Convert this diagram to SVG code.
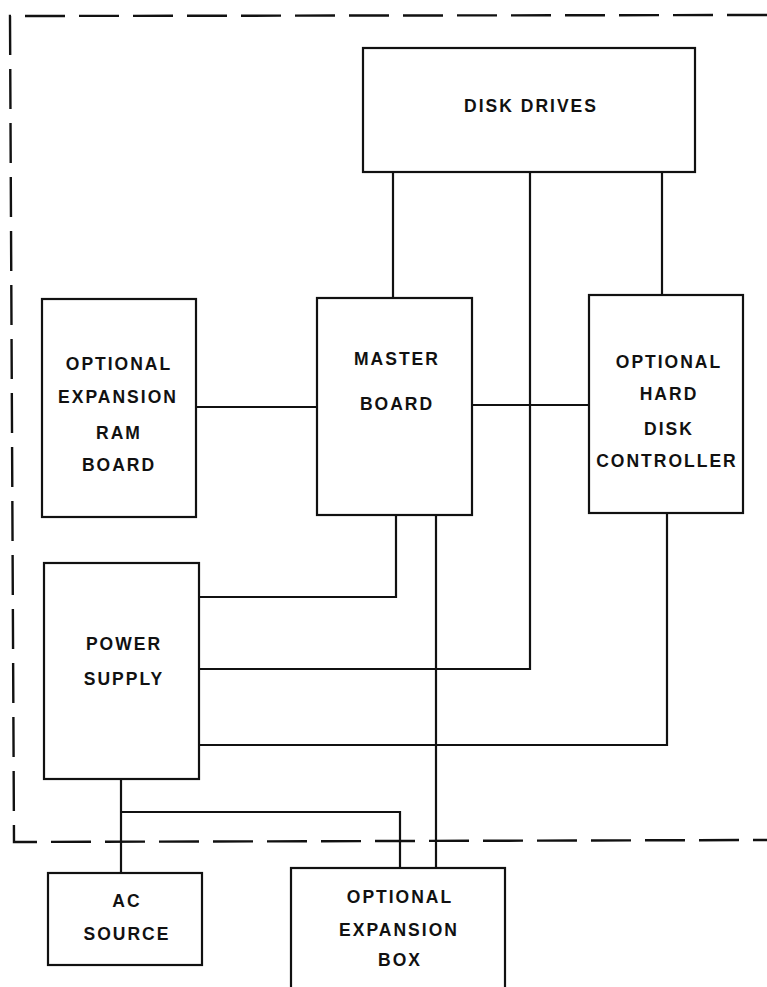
<svg xmlns="http://www.w3.org/2000/svg" width="767" height="987" viewBox="0 0 767 987">
<style>
.box{fill:#fff;stroke:#111;stroke-width:2.2}
.ln{fill:none;stroke:#111;stroke-width:2.2}
.dash{fill:none;stroke:#111;stroke-width:2.4;stroke-dasharray:40 14}
text{font-family:"Liberation Sans",Arial,Helvetica,sans-serif;font-weight:bold;font-size:17.5px;letter-spacing:2px;text-anchor:middle;fill:#111}
</style>
<rect width="767" height="987" fill="#fff"/>
<path class="dash" d="M767,15 L10,16 L14,842 L767,840"/>
<g id="connectors">
<path class="ln" d="M393,172 V298"/>
<path class="ln" d="M530,172 V669 H199"/>
<path class="ln" d="M662,172 V295"/>
<path class="ln" d="M196,407 H317"/>
<path class="ln" d="M472,405 H589"/>
<path class="ln" d="M396,515 V597 H199"/>
<path class="ln" d="M436,515 V868"/>
<path class="ln" d="M667,513 V745 H199"/>
<path class="ln" d="M121,779 V873"/>
<path class="ln" d="M121,812 H400 V868"/>
</g>
<g id="disk-drives">
<rect class="box" x="363" y="48" width="332" height="124"/>
<text x="531" y="112">DISK DRIVES</text>
</g>
<g id="master-board">
<rect class="box" x="317" y="298" width="155" height="217"/>
<text x="397" y="365">MASTER</text>
<text x="397" y="410">BOARD</text>
</g>
<g id="hard-disk-controller">
<rect class="box" x="589" y="295" width="154" height="218"/>
<text x="669" y="368">OPTIONAL</text>
<text x="669" y="400">HARD</text>
<text x="669" y="435">DISK</text>
<text x="667" y="467">CONTROLLER</text>
</g>
<g id="ram-board">
<rect class="box" x="42" y="299" width="154" height="218"/>
<text x="119" y="370">OPTIONAL</text>
<text x="118" y="403">EXPANSION</text>
<text x="119" y="439">RAM</text>
<text x="119" y="471">BOARD</text>
</g>
<g id="power-supply">
<rect class="box" x="44" y="563" width="155" height="216"/>
<text x="124" y="650">POWER</text>
<text x="124" y="685">SUPPLY</text>
</g>
<g id="ac-source">
<rect class="box" x="48" y="873" width="154" height="92"/>
<text x="127" y="907">AC</text>
<text x="127" y="940">SOURCE</text>
</g>
<g id="expansion-box">
<rect class="box" x="291" y="868" width="214" height="140"/>
<text x="400" y="903">OPTIONAL</text>
<text x="399" y="936">EXPANSION</text>
<text x="400" y="966">BOX</text>
</g>
</svg>
